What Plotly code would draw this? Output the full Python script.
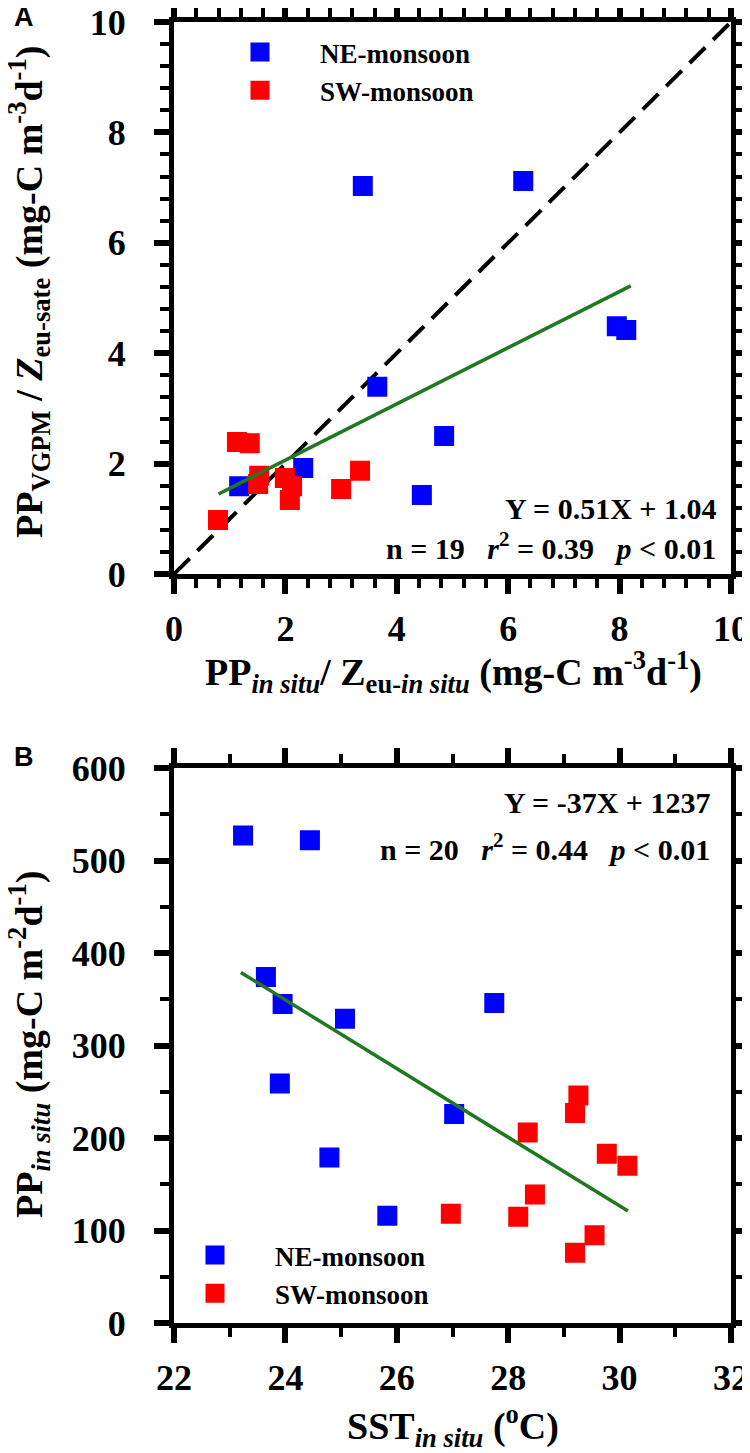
import plotly.graph_objects as go

# Panel A: PP_in situ / Zeu-in situ vs PP_VGPM / Zeu-sate
ne_a_x = [3.39, 6.27, 7.95, 8.12, 3.65, 4.85, 4.45, 2.32, 1.17]
ne_a_y = [7.03, 7.12, 4.49, 4.42, 3.39, 2.50, 1.43, 1.92, 1.59]
sw_a_x = [0.79, 1.13, 1.36, 1.53, 1.51, 1.99, 2.12, 2.08, 3.00, 3.34]
sw_a_y = [0.98, 2.39, 2.37, 1.78, 1.63, 1.74, 1.59, 1.34, 1.54, 1.87]
fit_a_x = [0.8, 8.2]
fit_a_y = [1.45, 5.22]
one_to_one = [0, 10]

# Panel B: SST_in situ vs PP_in situ
ne_b_x = [23.24, 24.44, 23.65, 23.95, 25.07, 27.75, 23.90, 27.03, 24.79, 25.83]
ne_b_y = [527, 522, 374, 345, 329, 346, 259, 226, 179, 116]
sw_b_x = [26.97, 28.18, 28.48, 28.35, 29.20, 29.26, 29.77, 30.14, 29.55, 29.20]
sw_b_y = [118, 115, 139, 206, 227, 246, 183, 170, 95, 76]
fit_b_x = [23.2, 30.15]
fit_b_y = [379, 121]

W, H = 750, 1453
OFF = 8  # page body margin
SERIF = "Liberation Serif"
BLUE = "#0000ff"
RED = "#ff0000"
GREEN = "#1f7a1f"


def px_x(p):
    return (p - OFF) / W


def px_y(p):
    return 1 - (p - OFF) / H


fig = go.Figure()

sq = dict(symbol="square", size=17)

fig.add_trace(go.Scatter(x=one_to_one, y=one_to_one, mode="lines",
                         line=dict(color="black", width=4, dash="22px,11px"),
                         showlegend=False, xaxis="x", yaxis="y"))
fig.add_trace(go.Scatter(x=ne_a_x, y=ne_a_y, mode="markers", name="NE-monsoon",
                         marker=dict(color=BLUE, line=dict(color=BLUE, width=3), **sq),
                         xaxis="x", yaxis="y", legend="legend"))
fig.add_trace(go.Scatter(x=sw_a_x, y=sw_a_y, mode="markers", name="SW-monsoon",
                         marker=dict(color=RED, line=dict(color=RED, width=3), **sq),
                         xaxis="x", yaxis="y", legend="legend"))
fig.add_trace(go.Scatter(x=fit_a_x, y=fit_a_y, mode="lines",
                         line=dict(color=GREEN, width=3.5),
                         showlegend=False, xaxis="x", yaxis="y"))

fig.add_trace(go.Scatter(x=ne_b_x, y=ne_b_y, mode="markers", name="NE-monsoon",
                         marker=dict(color=BLUE, line=dict(color=BLUE, width=3), **sq),
                         xaxis="x2", yaxis="y2", legend="legend2"))
fig.add_trace(go.Scatter(x=sw_b_x, y=sw_b_y, mode="markers", name="SW-monsoon",
                         marker=dict(color=RED, line=dict(color=RED, width=3), **sq),
                         xaxis="x2", yaxis="y2", legend="legend2"))
fig.add_trace(go.Scatter(x=fit_b_x, y=fit_b_y, mode="lines",
                         line=dict(color=GREEN, width=3.5),
                         showlegend=False, xaxis="x2", yaxis="y2"))

tickfont = dict(family=SERIF, size=36, color="black", weight="bold")

common = dict(
    showline=True, linewidth=5, linecolor="black", mirror="allticks",
    ticks="outside", ticklen=15, tickwidth=6, tickcolor="black",
    showgrid=False, zeroline=False, tickfont=tickfont, automargin=False,
    ticklabeloverflow="allow",
)
minor_tk = dict(ticks="outside", ticklen=9, tickwidth=3.5, tickcolor="black")

x_dom = [px_x(174), px_x(731)]
legfont = dict(family=SERIF, size=27, color="black", weight="bold")

fig.update_layout(
    width=W, height=H,
    margin=dict(l=0, r=0, t=0, b=0),
    paper_bgcolor="white", plot_bgcolor="white",
    xaxis=dict(domain=x_dom, anchor="y", range=[0, 10], dtick=2,
               minor=dict(dtick=0.4, **minor_tk), ticklabelstandoff=4, **common),
    yaxis=dict(domain=[px_y(574), px_y(22)], anchor="x", range=[0, 10], dtick=2,
               minor=dict(dtick=0.4, **minor_tk), ticklabelstandoff=21, **common),
    xaxis2=dict(domain=x_dom, anchor="y2", range=[22, 32], dtick=2,
                minor=dict(dtick=1, **minor_tk), ticklabelstandoff=4, **common),
    yaxis2=dict(domain=[px_y(1323), px_y(768)], anchor="x2", range=[0, 600], dtick=100,
                minor=dict(dtick=50, **minor_tk), ticklabelstandoff=21, **common),
    legend=dict(x=px_x(200), y=px_y(28), xanchor="left", yanchor="top",
                bgcolor="rgba(0,0,0,0)", itemwidth=110, tracegroupgap=0, font=legfont),
    legend2=dict(x=px_x(155), y=px_y(1231), xanchor="left", yanchor="top",
                 bgcolor="rgba(0,0,0,0)", itemwidth=110, tracegroupgap=0, font=legfont),
)

# axis titles
titlefont = dict(family=SERIF, size=38, color="black", weight="bold")
titles = [
    dict(text="PP<sub><i>in situ</i></sub>/ Z<sub>eu-<i>in situ</i></sub> (mg-C m<sup>-3</sup>d<sup>-1</sup>)",
         x=px_x(453), y=px_y(672), textangle=0),
    dict(text="PP<sub>VGPM</sub> / <i>Z</i><sub>eu-sate</sub> (mg-C m<sup>-3</sup>d<sup>-1</sup>)",
         x=px_x(29), y=px_y(292), textangle=-90),
    dict(text="SST<sub><i>in situ</i></sub> (<sup>o</sup>C)",
         x=px_x(453), y=px_y(1426), textangle=0),
    dict(text="PP<sub><i>in situ</i></sub> (mg-C m<sup>-2</sup>d<sup>-1</sup>)",
         x=px_x(29), y=px_y(1045), textangle=-90),
]
for t in titles:
    fig.add_annotation(xref="paper", yref="paper", xanchor="center", yanchor="middle",
                       showarrow=False, font=titlefont, **t)

annfont = dict(family=SERIF, size=30, color="black", weight="bold")
sp = "&nbsp;&nbsp;&nbsp;"
annotations = [
    dict(text="Y = 0.51X + 1.04", x=px_x(718), y=px_y(508)),
    dict(text=f"n = 19{sp}<i>r</i><sup>2</sup> = 0.39{sp}<i>p</i> &lt; 0.01", x=px_x(718), y=px_y(546)),
    dict(text="Y = -37X + 1237", x=px_x(712), y=px_y(802)),
    dict(text=f"n = 20{sp}<i>r</i><sup>2</sup> = 0.44{sp}<i>p</i> &lt; 0.01", x=px_x(712), y=px_y(847)),
]
for a in annotations:
    fig.add_annotation(xref="paper", yref="paper", xanchor="right", yanchor="middle",
                       showarrow=False, font=annfont, **a)

panel_font = dict(family="Liberation Sans", size=27, color="black", weight="bold")
fig.add_annotation(text="A", xref="paper", yref="paper", x=px_x(24), y=px_y(17),
                   xanchor="center", yanchor="middle", showarrow=False, font=panel_font)
fig.add_annotation(text="B", xref="paper", yref="paper", x=px_x(24), y=px_y(757),
                   xanchor="center", yanchor="middle", showarrow=False, font=panel_font)

fig.write_html("out.html")
